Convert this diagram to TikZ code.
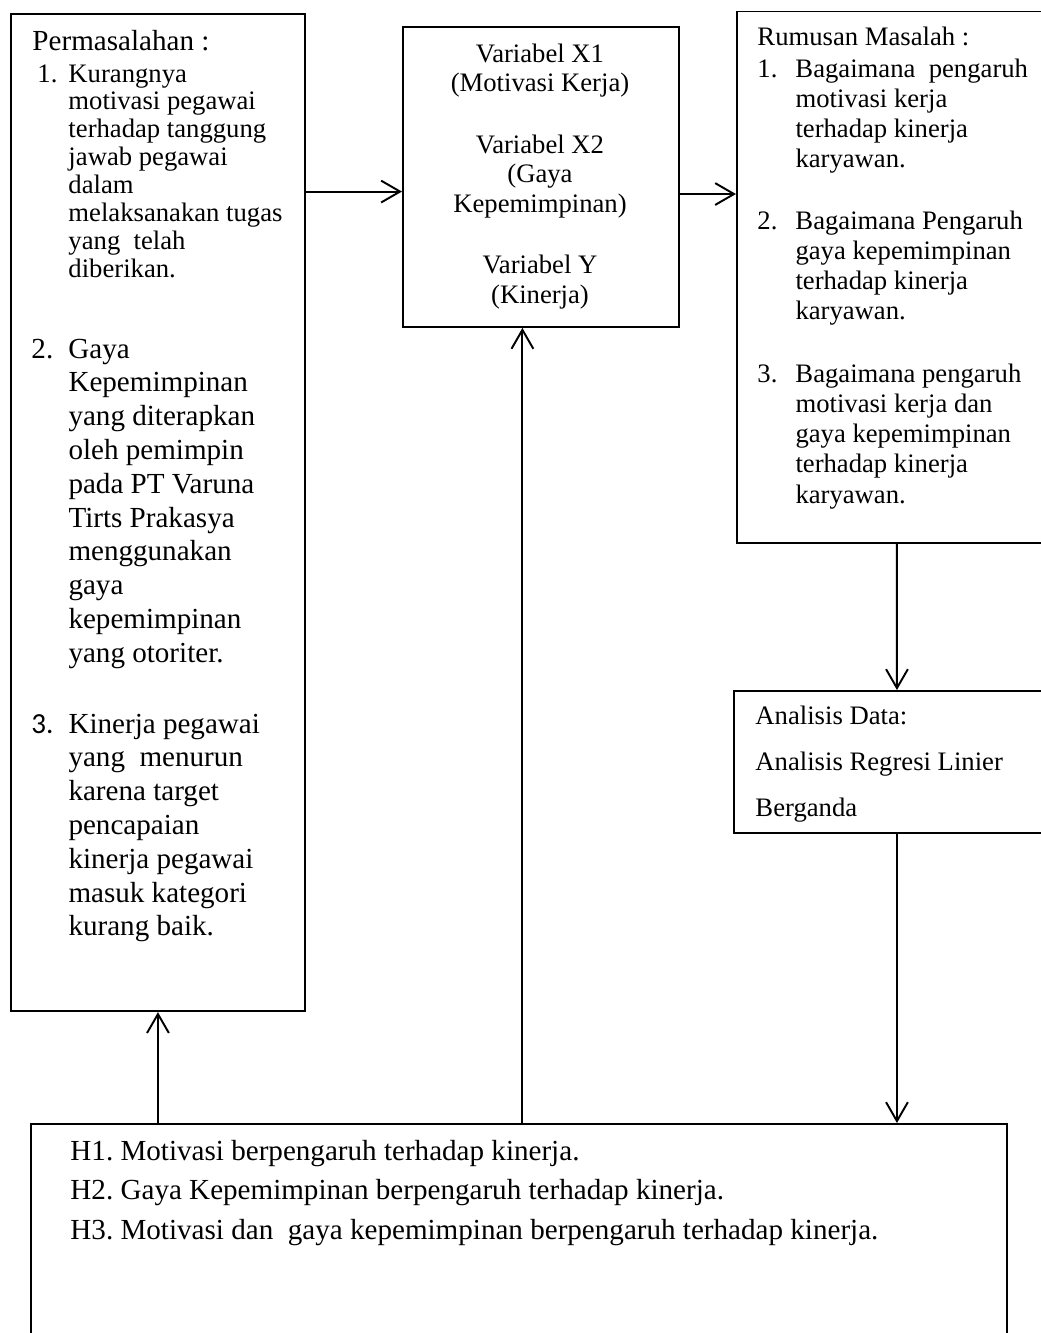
\documentclass[tikz,border=0pt]{standalone}
\usepackage{fontspec}
\setmainfont{Liberation Serif}
\newfontfamily\numfont{Carlito}
\usepackage{tikz}
\usetikzlibrary{
  arrows.meta
}
\frenchspacing
\tikzset{
  outerbox/.style={
    draw=black, line width=0.75pt, rectangle, anchor=north west, inner sep=0pt
  },
  bodytext/.style={
    inner sep=0pt, anchor=base west
  },
  flowarrow/.style={
    ->, >={Straight Barb[length=7.8pt,width=9pt]}, line width=0.8pt, draw=black
  }
}

\begin{document}
\begin{tikzpicture}[x=0.0145cm, y=-0.0145cm]
    \useasboundingbox (0,0) rectangle (1041,1333);

    \node[outerbox, minimum width=4.263cm, minimum height=14.461cm] (masalah) at (10,12.7) {};
    \node[outerbox, minimum width=4.002cm, minimum height=4.35cm] (variabel) at (402,26) {};
    \node[outerbox, minimum width=4.64cm, minimum height=7.707cm] (rumusan) at (736,10.5) {};
    \node[outerbox, minimum width=4.727cm, minimum height=2.059cm] (analisis) at (733,690) {};
    \node[outerbox, minimum width=14.152cm, minimum height=3.77cm] (hipotesis) at (30,1123) {};

    \node[bodytext, font=\fontsize{12}{13.8}\selectfont] (masalahjudul) at (32,50) {Permasalahan :};
    \node[bodytext, font=\fontsize{11}{11.51}\selectfont] (masalahsatu) at (37,82) {%
      \begin{tabular}[t]{@{}p{12.79pt}@{}l@{}}
        1. & Kurangnya\\
           & motivasi pegawai\\
           & terhadap tanggung\\
           & jawab pegawai\\
           & dalam\\
           & melaksanakan tugas\\
           & yang\ \ telah\\
           & diberikan.
      \end{tabular}};
    \node[bodytext, font=\fontsize{12}{13.94}\selectfont] (masalahdua) at (31,358) {%
      \begin{tabular}[t]{@{}p{15.27pt}@{}l@{}}
        2. & Gaya\\
           & Kepemimpinan\\
           & yang diterapkan\\
           & oleh pemimpin\\
           & pada PT Varuna\\
           & Tirts Prakasya\\
           & menggunakan\\
           & gaya\\
           & kepemimpinan\\
           & yang otoriter.
      \end{tabular}};
    \node[bodytext, font=\fontsize{12}{13.94}\selectfont] (masalahtiga) at (31,733) {%
      \begin{tabular}[t]{@{}p{15.27pt}@{}l@{}}
        {\numfont 3.} & Kinerja pegawai\\
           & yang\ \ menurun\\
           & karena target\\
           & pencapaian\\
           & kinerja pegawai\\
           & masuk kategori\\
           & kurang baik.
      \end{tabular}};

    \node[bodytext, anchor=base, font=\fontsize{11}{12.3}\selectfont] (variabelteks) at (540,62) {%
      \begin{tabular}[t]{@{}c@{}}
        Variabel X1\\
        (Motivasi Kerja)\\[12.96pt]
        Variabel X2\\
        (Gaya\\
        Kepemimpinan)\\[12.96pt]
        Variabel Y\\
        (Kinerja)
      \end{tabular}};

    \node[bodytext, font=\fontsize{11}{12.5}\selectfont] (rumusanjudul) at (757,45) {Rumusan Masalah :};
    \node[bodytext, font=\fontsize{11}{12.5}\selectfont] (rumusansatu) at (757,77) {%
      \begin{tabular}[t]{@{}p{15.68pt}@{}l@{}}
        1. & Bagaimana\ \ pengaruh\\
           & motivasi kerja\\
           & terhadap kinerja\\
           & karyawan.
      \end{tabular}};
    \node[bodytext, font=\fontsize{11}{12.5}\selectfont] (rumusandua) at (757,229) {%
      \begin{tabular}[t]{@{}p{15.68pt}@{}l@{}}
        2. & Bagaimana Pengaruh\\
           & gaya kepemimpinan\\
           & terhadap kinerja\\
           & karyawan.
      \end{tabular}};
    \node[bodytext, font=\fontsize{11}{12.5}\selectfont] (rumusantiga) at (757,382) {%
      \begin{tabular}[t]{@{}p{15.68pt}@{}l@{}}
        3. & Bagaimana pengaruh\\
           & motivasi kerja dan\\
           & gaya kepemimpinan\\
           & terhadap kinerja\\
           & karyawan.
      \end{tabular}};

    \node[bodytext, font=\fontsize{11}{19}\selectfont] (analisisteks) at (755,724) {%
      \begin{tabular}[t]{@{}l@{}}
        Analisis Data:\\
        Analisis Regresi Linier\\
        Berganda
      \end{tabular}};

    \node[bodytext, font=\fontsize{12}{16.3}\selectfont] (hipotesisteks) at (70,1160) {%
      \begin{tabular}[t]{@{}l@{}}
        H1. Motivasi berpengaruh terhadap kinerja.\\
        H2. Gaya Kepemimpinan berpengaruh terhadap kinerja.\\
        H3. Motivasi dan\ \ gaya kepemimpinan berpengaruh terhadap kinerja.
      \end{tabular}};

    \draw[flowarrow] (masalah.east |- variabel.186.6) -- (variabel.186.6);
    \draw[flowarrow] (variabel.353.4) -- (variabel.353.4 -| rumusan.west);
    \draw[flowarrow] (rumusan.south) -- (analisis.north);
    \draw[flowarrow] (analisis.south) -- (analisis.south |- hipotesis.north);
    \draw[flowarrow] (hipotesis.north -| masalah.south) -- (masalah.south);
    \draw[flowarrow] (hipotesis.north -| variabel.263.2) -- (variabel.263.2);

  \end{tikzpicture}
\end{document}
